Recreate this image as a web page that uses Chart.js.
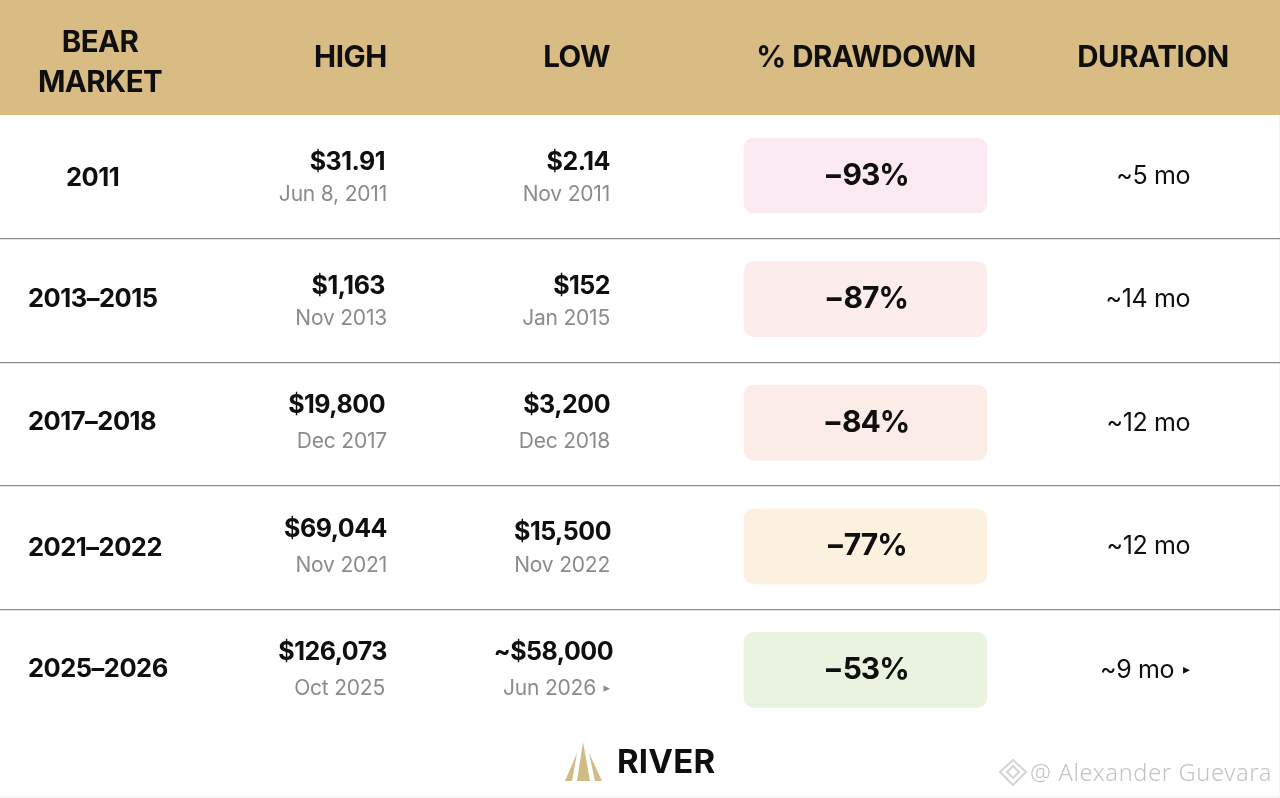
<!DOCTYPE html>
<html>
<head>
<meta charset="utf-8">
<style>html,body{margin:0;padding:0;background:#fff}canvas{display:block}</style>
<script src="https://cdn.jsdelivr.net/npm/chart.js@4"></script>
</head>
<body>
<canvas id="c" width="1280" height="798"></canvas>
<script>
const markets = ['2011','2013–2015','2017–2018','2021–2022','2025–2026'];
const highs = ['$31.91','$1,163','$19,800','$69,044','$126,073'];
const highDates = ['Jun 8, 2011','Nov 2013','Dec 2017','Nov 2021','Oct 2025'];
const lows = ['$2.14','$152','$3,200','$15,500','~$58,000'];
const lowDates = ['Nov 2011','Jan 2015','Dec 2018','Nov 2022','Jun 2026 ▸'];
const drawdowns = [-93,-87,-84,-77,-53];
const durations = ['~5 mo','~14 mo','~12 mo','~12 mo','~9 mo ▸'];

// layout and style, kept apart from the values
const FONT = 'Inter';
const INK = '#0f0f0f', GREY = '#8b8b8b';
const pillColors = ['#fbeaf1','#fcecec','#fbece8','#fcf0de','#e9f3df'];
const PILL = [744,987];
const labelX = [66,28,28,28,28];
const labelDy = [2,-1,-2,1,-2];
const highX = [385,385,385,387,387], highDy = [-14,-14,-19,-18,-19];
const hDateX = [387,387,387,387,385], hDateDy = [18,18,18,18,17];
const lowX = [610,610,610,611,613], lowDy = [-14,-14,-19,-15,-19];
const lDateX = [610,610,610,610,610], lDateDy = [18,18,18,18,17];
const pillDy = [-1,-1,-1,-2,-1];
const durDy = [0,-1,-1,-1,-1];

function text(ctx,s,x,y,font,color,align,spacing){
  ctx.font=font; ctx.fillStyle=color; ctx.textAlign=align||'left'; ctx.textBaseline='middle';
  ctx.letterSpacing=(spacing||0)+'px';
  ctx.fillText(s,x,y);
  ctx.letterSpacing='0px';
}
// right-aligned cell whose optional trailing arrow is set smaller
function cell(ctx,s,x,y,font,color,spacing,gap,arrowSize){
  if(s.endsWith(' ▸')){
    text(ctx,'▸',x,y,arrowSize+'px "DejaVu Sans"',color,'right');
    text(ctx,s.slice(0,-2),x-gap,y,font,color,'right',spacing);
  } else text(ctx,s,x,y,font,color,'right',spacing);
}

const tablePlugin = {
  id:'table',
  beforeDraw(chart){
    const {ctx,width,height,chartArea}=chart;
    ctx.save();
    ctx.fillStyle='#ffffff'; ctx.fillRect(0,0,width,height);
    ctx.fillStyle='#f6f6f6'; ctx.fillRect(0,height-2,width,2); ctx.fillRect(width-1,115,1,height-115);
    ctx.fillStyle='#d8bc84'; ctx.fillRect(0,0,width,chartArea.top);
    ctx.restore();
  },
  beforeDatasetsDraw(chart){ chart.ctx.save(); chart.ctx.translate(0,-1.3); },
  afterDatasetsDraw(chart){
    const {ctx,scales:{x,y}}=chart;
    ctx.restore();
    ctx.save();
    const head='700 29.5px '+FONT, val='700 25px '+FONT, dat='400 21px '+FONT;
    text(ctx,'BEAR',100,43,head,INK,'center',-0.6);
    text(ctx,'MARKET',100,83,head,INK,'center',-0.6);
    text(ctx,'HIGH',x.getPixelForValue(387),58,head,INK,'right',-0.4);
    text(ctx,'LOW',x.getPixelForValue(610),58,head,INK,'right',-0.6);
    text(ctx,'% DRAWDOWN',x.getPixelForValue(866),58,head,INK,'center',-0.5);
    text(ctx,'DURATION',x.getPixelForValue(1153),58,head,INK,'center',-0.4);
    markets.forEach((m,i)=>{
      const c=y.getPixelForValue(i);
      text(ctx,m,x.getPixelForValue(labelX[i]),c+labelDy[i],'700 25.5px '+FONT,INK,'left',-0.5);
      text(ctx,highs[i],x.getPixelForValue(highX[i]),c+highDy[i],val,INK,'right',-0.5);
      text(ctx,highDates[i],x.getPixelForValue(hDateX[i]),c+hDateDy[i],dat,GREY,'right',-0.2);
      text(ctx,lows[i],x.getPixelForValue(lowX[i]),c+lowDy[i],val,INK,'right',-0.5);
      cell(ctx,lowDates[i],x.getPixelForValue(lDateX[i]),c+lDateDy[i],dat,GREY,-0.2,14,13);
      text(ctx,'−'+Math.abs(drawdowns[i])+'%',x.getPixelForValue(866),c+pillDy[i],'700 30px '+FONT,INK,'center',-1);
      cell(ctx,durations[i],x.getPixelForValue(1190),c+durDy[i],'400 25px '+FONT,INK,-0.4,16,14);
    });
    // brand mark
    ctx.fillStyle='#d2ba85';
    [[[577,753],[572,781],[565,781]],[[583,742],[590,781],[577,781]],[[589,753],[602,781],[595,781]]].forEach(p=>{
      ctx.beginPath(); p.forEach((q,k)=>k?ctx.lineTo(q[0],q[1]):ctx.moveTo(q[0],q[1])); ctx.closePath(); ctx.fill();
    });
    text(ctx,'RIVER',617,763,'700 33px '+FONT,INK,'left',0.2);
    // watermark
    ctx.strokeStyle='#d4d4d4'; ctx.lineWidth=2;
    ctx.beginPath(); ctx.moveTo(1013,760);ctx.lineTo(1026,772);ctx.lineTo(1013,785);ctx.lineTo(1000,772);ctx.closePath();ctx.stroke();
    ctx.beginPath(); ctx.moveTo(1013,766);ctx.lineTo(1019,772);ctx.lineTo(1013,778);ctx.lineTo(1007,772);ctx.closePath();ctx.stroke();
    text(ctx,'@ Alexander Guevara',1272,774,'300 23.5px "Noto Sans"','#c4c4c4','right',0.7);
    ctx.restore();
  }
};

new Chart(document.getElementById('c'),{
  type:'bar',
  plugins:[tablePlugin],
  data:{
    labels:markets,
    datasets:[{
      label:'% Drawdown',
      data:markets.map((m,i)=>({x:PILL,y:m,drawdown:drawdowns[i]})),
      backgroundColor:pillColors,
      borderRadius:10,
      borderSkipped:false,
      barThickness:75
    }]
  },
  options:{
    indexAxis:'y',
    responsive:false,
    animation:false,
    layout:{padding:{top:115,bottom:65,left:0,right:0}},
    plugins:{legend:{display:false},tooltip:{enabled:false}},
    scales:{
      x:{type:'linear',min:0,max:1280,display:false},
      y:{type:'category',display:true,
        ticks:{display:false},
        border:{display:false},
        grid:{offset:true,drawTicks:false,lineWidth:1.3,
          color:c=>(!c.tick||c.index===0)?'rgba(0,0,0,0)':'#8e8e8e'}}
    }
  }
});
</script>
</body>
</html>
